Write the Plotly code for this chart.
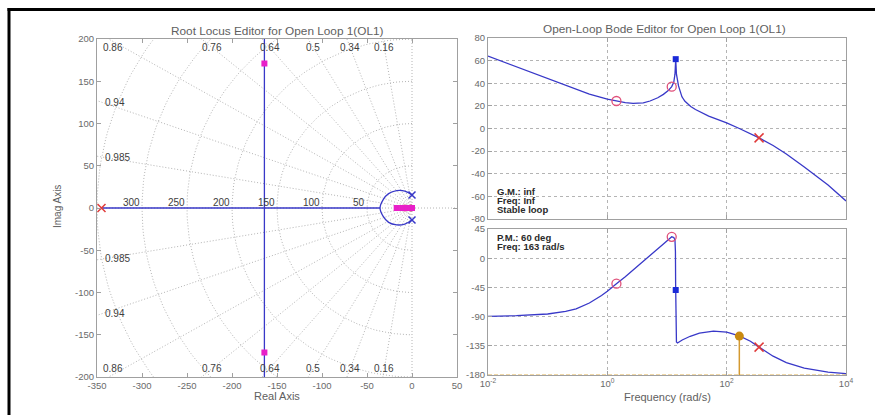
import numpy as np
import plotly.graph_objects as go

W, H = 875, 415

# ---------------- data ----------------
# Root locus
rl_horiz_x = [-345, -35.5]
rl_horiz_y = [0, 0]
rl_vert_x = [-164, -164]
rl_vert_y = [-200, 200]
rl_arc_x = [0, -8, -17, -26, -32, -35.5, -32, -26, -17, -8, 0]
rl_arc_y = [15.4, 20, 20.5, 17, 10, 0, -10, -17, -20, -19, -14.2]
ol_pole_comp_x = [-345]
ol_pole_comp_y = [0]
ol_pole_plant_x = [0, 0]
ol_pole_plant_y = [15.4, -14.2]
cl_pole_x = [-164, -164, -17, -11, -5, 0]
cl_pole_y = [171, -171, 0, 0, 0, 0]
rl_zero_x = [-1.4, -8]
rl_zero_y = [0, 0]

damping_values = [0.16, 0.34, 0.5, 0.64, 0.76, 0.86, 0.94, 0.985]
wn_values = [50, 100, 150, 200, 250, 300, 350]
wn_labels = [50, 100, 150, 200, 250, 300]

# Bode magnitude
mag_freq = [0.01, 0.02, 0.05, 0.1, 0.2, 0.5, 1.0, 1.42, 2.0, 2.7, 4.0, 5.2, 7.0,
            8.7, 10.5, 12.0, 13.0, 13.6, 14.0, 14.4, 15.0, 15.6, 17.8, 20, 25,
            30, 50, 100, 163, 349, 600, 1000, 2000, 5000, 10000]
mag_db = [64, 58, 50, 44.2, 38.3, 30.3, 26, 24.3, 22.8, 22.2, 22.6, 24.3, 27.2,
          30.2, 33.5, 37.0, 41, 48, 61.3, 48, 41, 37.6, 28, 24, 19.5,
          16.8, 11, 5, 0, -8.3, -15, -22.5, -34, -50, -64]

# Bode phase
ph_freq = [0.01, 0.03, 0.1, 0.2, 0.3, 0.5, 0.8, 1.0, 1.42, 2.0, 3.5, 5.0, 6.7,
           9.0, 12.0, 13.0, 13.6, 13.85, 13.95, 14.05, 14.15, 14.4, 15.0, 16,
           18, 24.5, 35, 60, 100, 163, 250, 349, 600, 1000, 2000, 5000, 10000]
ph_deg = [-89.5, -88.5, -86, -82, -78, -69, -57.5, -51, -39.2, -28.5, -9.3, 2.5,
          12.4, 23, 33, 32, 28, 10, -40, -90, -120, -129, -130.6, -129, -126,
          -120.3, -115.5, -112.5, -114, -119.7, -128, -137, -151, -161, -169.5,
          -175.5, -178]

zero_freq = [1.42, 12.0]
zero_mag = [24.3, 37.0]
zero_ph = [-39.2, 33]
pole_freq = [349]
pole_mag = [-8.3]
pole_ph = [-137]
res_freq = [14.0]
res_mag = [61.3]
res_ph = [-49]
pm_freq = 163
pm_phase = -120

x_ticks_rl = list(range(-350, 51, 50))
y_ticks_rl = list(range(-200, 201, 50))
mag_ticks = list(range(-80, 81, 20))
ph_ticks = [-180, -135, -90, -45, 0, 45]
freq_ticks = [1e-2, 1e0, 1e2, 1e4]
freq_ticktext = ["10<sup>-2</sup>", "10<sup>0</sup>", "10<sup>2</sup>", "10<sup>4</sup>"]

gm_lines = ["G.M.: inf", "Freq: Inf", "Stable loop"]
pm_lines = ["P.M.: 60 deg", "Freq: 163 rad/s"]

# ---------------- styles ----------------
FONT = "Liberation Sans"
BLUE = "#3838c8"
MAG = "#e81fc8"
RED = "#e03a3a"
PINK = "#e0507a"
ORANGE = "#c98a10"
GRIDC = "#b4b4b4"
AXC = "#a0a0a0"
TICKC = "#6a6a6a"

fig = go.Figure()

# s-grid (damping rays and wn arcs)
for z in damping_values:
    th = np.arccos(z)
    for s in (1, -1):
        fig.add_trace(go.Scatter(x=[0, -600 * np.cos(th)], y=[0, s * 600 * np.sin(th)],
                                 mode="lines", line=dict(color=GRIDC, width=1, dash="1px,2px"),
                                 hoverinfo="skip", showlegend=False, xaxis="x", yaxis="y"))
t = np.linspace(np.pi / 2, 3 * np.pi / 2, 121)
for wn in wn_values:
    fig.add_trace(go.Scatter(x=wn * np.cos(t), y=wn * np.sin(t), mode="lines",
                             line=dict(color=GRIDC, width=1, dash="1px,2px"),
                             hoverinfo="skip", showlegend=False, xaxis="x", yaxis="y"))
fig.add_trace(go.Scatter(x=[0, 0], y=[-200, 200], mode="lines",
                         line=dict(color=GRIDC, width=1, dash="1px,2px"), showlegend=False))
fig.add_trace(go.Scatter(x=[-350, 50], y=[0, 0], mode="lines",
                         line=dict(color=GRIDC, width=1, dash="1px,2px"), showlegend=False))

# locus branches
fig.add_trace(go.Scatter(x=rl_horiz_x, y=rl_horiz_y, mode="lines", line=dict(color=BLUE, width=1.3), showlegend=False))
fig.add_trace(go.Scatter(x=rl_vert_x, y=rl_vert_y, mode="lines", line=dict(color=BLUE, width=1.3), showlegend=False))
fig.add_trace(go.Scatter(x=rl_arc_x, y=rl_arc_y, mode="lines", line=dict(color=BLUE, width=1.3, shape="spline"), showlegend=False))
fig.add_trace(go.Scatter(x=ol_pole_plant_x, y=ol_pole_plant_y, mode="markers",
                         marker=dict(symbol="x-thin-open", size=7, color=BLUE, line=dict(color=BLUE, width=1.5)), showlegend=False))
fig.add_trace(go.Scatter(x=ol_pole_comp_x, y=ol_pole_comp_y, mode="markers",
                         marker=dict(symbol="x-thin-open", size=8, color=RED, line=dict(color=RED, width=1.5)), showlegend=False))
fig.add_trace(go.Scatter(x=rl_zero_x, y=rl_zero_y, mode="markers",
                         marker=dict(symbol="circle-open", size=6, color=PINK, line=dict(color=PINK, width=1.2)), showlegend=False))
fig.add_trace(go.Scatter(x=cl_pole_x, y=cl_pole_y, mode="markers",
                         marker=dict(symbol="square", size=6, color=MAG), showlegend=False))

# Bode magnitude
fig.add_trace(go.Scatter(x=mag_freq, y=mag_db, mode="lines", line=dict(color=BLUE, width=1.3),
                         xaxis="x2", yaxis="y2", showlegend=False))
fig.add_trace(go.Scatter(x=zero_freq, y=zero_mag, mode="markers", xaxis="x2", yaxis="y2",
                         marker=dict(symbol="circle-open", size=9, color=PINK, line=dict(color=PINK, width=1.3)), showlegend=False))
fig.add_trace(go.Scatter(x=pole_freq, y=pole_mag, mode="markers", xaxis="x2", yaxis="y2",
                         marker=dict(symbol="x-thin-open", size=9, color=RED, line=dict(color=RED, width=1.5)), showlegend=False))
fig.add_trace(go.Scatter(x=res_freq, y=res_mag, mode="markers", xaxis="x2", yaxis="y2",
                         marker=dict(symbol="square", size=6, color="#1a2ad8"), showlegend=False))

# Bode phase
fig.add_trace(go.Scatter(x=[1e-2, 1e4], y=[-180, -180], mode="lines", xaxis="x3", yaxis="y3",
                         line=dict(color="#e0b050", width=1.2, dash="4px,2px"), showlegend=False))
fig.add_trace(go.Scatter(x=[pm_freq, pm_freq], y=[pm_phase, -180], mode="lines", xaxis="x3", yaxis="y3",
                         line=dict(color="#d49a30", width=1.5), showlegend=False))
fig.add_trace(go.Scatter(x=ph_freq, y=ph_deg, mode="lines", line=dict(color=BLUE, width=1.3),
                         xaxis="x3", yaxis="y3", showlegend=False))
fig.add_trace(go.Scatter(x=zero_freq, y=zero_ph, mode="markers", xaxis="x3", yaxis="y3",
                         marker=dict(symbol="circle-open", size=9, color=PINK, line=dict(color=PINK, width=1.3)), showlegend=False))
fig.add_trace(go.Scatter(x=pole_freq, y=pole_ph, mode="markers", xaxis="x3", yaxis="y3",
                         marker=dict(symbol="x-thin-open", size=9, color=RED, line=dict(color=RED, width=1.5)), showlegend=False))
fig.add_trace(go.Scatter(x=res_freq, y=res_ph, mode="markers", xaxis="x3", yaxis="y3",
                         marker=dict(symbol="square", size=6, color="#1a2ad8"), showlegend=False))
fig.add_trace(go.Scatter(x=[pm_freq], y=[pm_phase], mode="markers", xaxis="x3", yaxis="y3",
                         marker=dict(symbol="circle", size=9, color=ORANGE), showlegend=False))


def px(x):
    return x / W


def py(y):
    return 1 - y / H


ax_common = dict(showline=True, linecolor=AXC, linewidth=1, mirror="ticks", ticks="inside",
                 ticklen=4, tickcolor=AXC, tickfont=dict(family=FONT, size=9.5, color=TICKC),
                 zeroline=False, automargin=False)

fig.update_layout(
    width=W, height=H, autosize=False,
    margin=dict(l=0, r=0, t=0, b=0, pad=0, autoexpand=False),
    paper_bgcolor="white", plot_bgcolor="white",
    font=dict(family=FONT, size=10, color=TICKC),
    xaxis=dict(domain=[px(97), px(457)], range=[-350, 50], tickvals=x_ticks_rl,
               ticktext=[str(v) for v in x_ticks_rl], showgrid=False, anchor="y", **ax_common),
    yaxis=dict(domain=[py(377), py(39)], range=[-200, 200], tickvals=y_ticks_rl,
               ticktext=[str(v) for v in y_ticks_rl], showgrid=False, anchor="x", **ax_common),
    xaxis2=dict(domain=[px(488), px(846)], type="log", range=[-2, 4], tickvals=freq_ticks,
                showticklabels=False, showgrid=True, gridcolor=GRIDC, griddash="dot", anchor="y2", **ax_common),
    yaxis2=dict(domain=[py(219), py(38)], range=[-80, 80], tickvals=mag_ticks,
                ticktext=[str(v) for v in mag_ticks],
                showgrid=True, gridcolor=GRIDC, griddash="dot", anchor="x2", **ax_common),
    xaxis3=dict(domain=[px(488), px(846)], type="log", range=[-2, 4], tickvals=freq_ticks,
                ticktext=freq_ticktext, showgrid=True, gridcolor=GRIDC, griddash="dot", anchor="y3", **ax_common),
    yaxis3=dict(domain=[py(375), py(229)], range=[-180, 45], tickvals=ph_ticks,
                ticktext=[str(v) for v in ph_ticks],
                showgrid=True, gridcolor=GRIDC, griddash="dot", anchor="x3", **ax_common),
)

ann = []
title_font = dict(family=FONT, size=11.8, color="#606060")
lab_font = dict(family=FONT, size=11, color="#606060")
ann.append(dict(text="Root Locus Editor for Open Loop 1(OL1)", x=px(277), y=py(31), xref="paper", yref="paper",
                xanchor="center", yanchor="middle", showarrow=False, font=title_font))
ann.append(dict(text="Open-Loop Bode Editor for Open Loop 1(OL1)", x=px(664), y=py(29), xref="paper", yref="paper",
                xanchor="center", yanchor="middle", showarrow=False, font=title_font))
ann.append(dict(text="Real Axis", x=px(277), y=py(396), xref="paper", yref="paper",
                xanchor="center", yanchor="middle", showarrow=False, font=lab_font))
ann.append(dict(text="Frequency (rad/s)", x=px(667), y=py(397), xref="paper", yref="paper",
                xanchor="center", yanchor="middle", showarrow=False, font=lab_font))
ann.append(dict(text="Imag Axis", x=px(57), y=py(207), xref="paper", yref="paper", textangle=-90,
                xanchor="center", yanchor="middle", showarrow=False,
                font=dict(family=FONT, size=10, color="#606060")))

# damping labels
for z in damping_values:
    th = np.arccos(z)
    tn = np.tan(th)
    if 350 * tn > 200:
        xl = -190 / tn
        if xl < -300:
            xl = -332
        for s in (1, -1):
            ann.append(dict(text=str(z), x=xl, y=s * 190, xref="x", yref="y", showarrow=False,
                            xanchor="center", yanchor="middle",
                            font=dict(family=FONT, size=10, color="#404040")))
    else:
        for s in (1, -1):
            ann.append(dict(text=str(z), x=-343, y=s * 343 * tn, xref="x", yref="y", showarrow=False,
                            xanchor="left", yanchor="middle",
                            font=dict(family=FONT, size=10, color="#404040")))
for wn in wn_labels:
    ann.append(dict(text=str(wn), x=-wn, y=7, xref="x", yref="y", showarrow=False, xanchor="right",
                    yanchor="middle", font=dict(family=FONT, size=10, color="#404040")))

info_font = dict(family=FONT, size=9.5, color="#2a2a2a")
for i, s in enumerate(gm_lines):
    ann.append(dict(text="<b>" + s + "</b>", x=px(495), y=py(191 + 9 * i), xref="paper", yref="paper",
                    xanchor="left", yanchor="middle", showarrow=False, font=info_font))
for i, s in enumerate(pm_lines):
    ann.append(dict(text="<b>" + s + "</b>", x=px(495), y=py(237 + 9 * i), xref="paper", yref="paper",
                    xanchor="left", yanchor="middle", showarrow=False, font=info_font))
fig.update_layout(annotations=ann)

# outer black frame (top and left edges visible in the picture)
fig.add_shape(type="line", xref="paper", yref="paper", x0=px(7.5), x1=1.0, y0=py(9.5), y1=py(9.5),
              line=dict(color="black", width=3), layer="above")
fig.add_shape(type="line", xref="paper", yref="paper", x0=px(9), x1=px(9), y0=0.0, y1=py(8),
              line=dict(color="black", width=3), layer="above")

fig.write_html("out.html", config={"displayModeBar": False},
               post_script="document.documentElement.style.overflow='hidden';"
                           "document.body.style.margin='0px';document.body.style.overflow='hidden';")
